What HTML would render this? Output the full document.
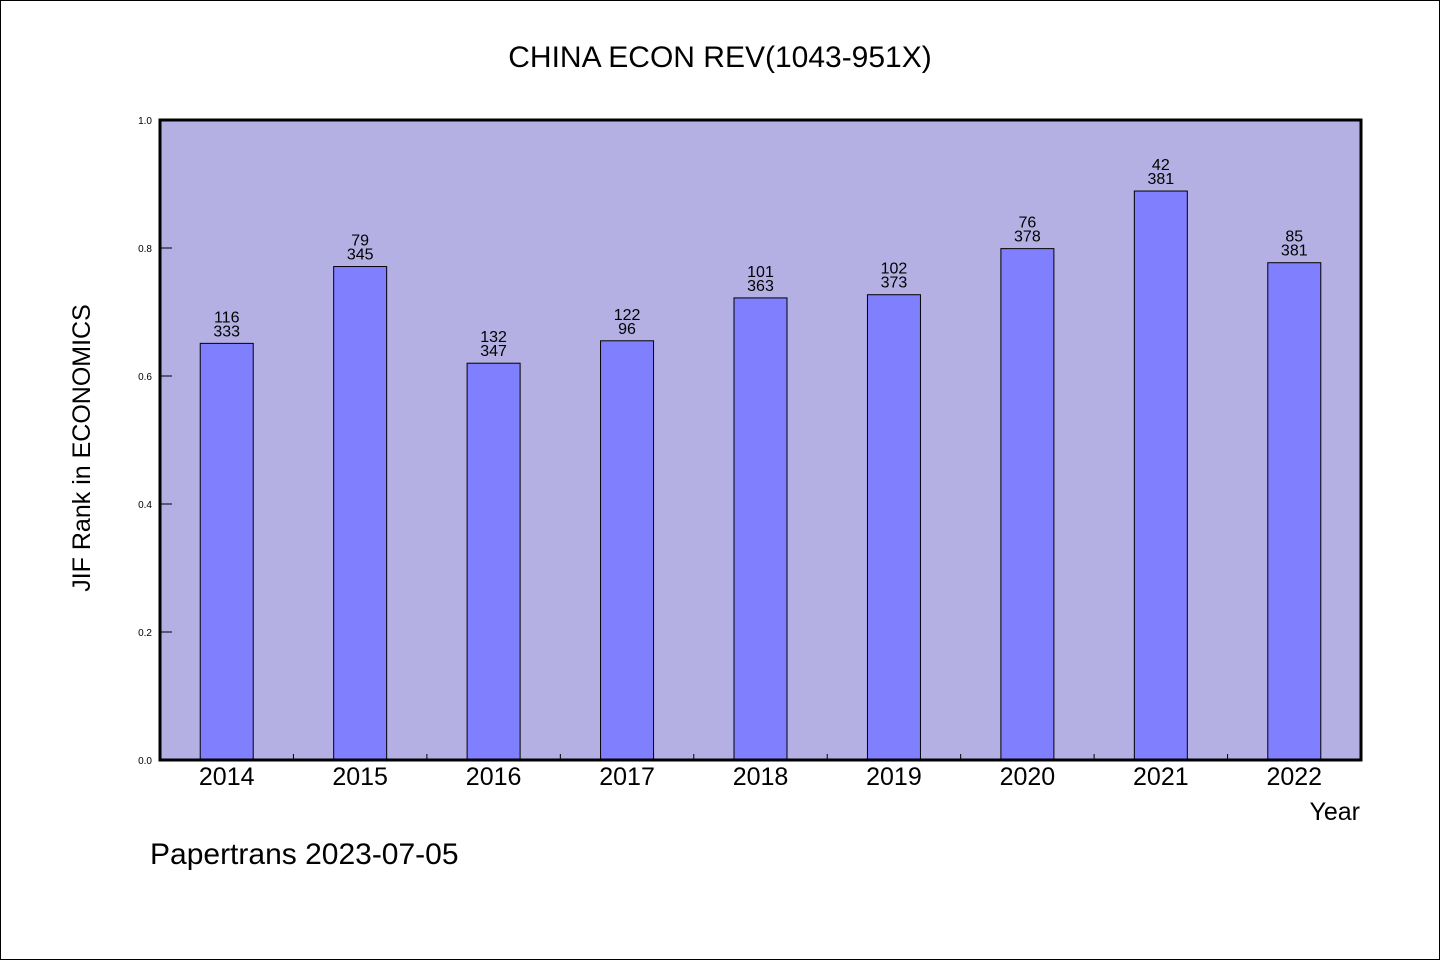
<!DOCTYPE html>
<html><head><meta charset="utf-8"><style>
body{margin:0;background:#fff}
svg{display:block}
text{font-family:"WenQuanYi Zen Hei","Liberation Sans",sans-serif;fill:#000}
</style></head><body>
<svg id="chart" width="1440" height="960" xmlns="http://www.w3.org/2000/svg">
<rect x="0.5" y="0.5" width="1439" height="959" fill="#fff" stroke="#000"/>
<text x="720" y="67" font-size="30" text-anchor="middle">CHINA ECON REV(1043-951X)</text>
<rect x="160" y="120" width="1201" height="640" fill="#b5b0e3"/>
<g id="bars"></g>
<g id="axes"></g>
<text transform="translate(90,448) rotate(-90)" font-size="25" text-anchor="middle">JIF Rank in ECONOMICS</text>
<text x="1360" y="820" font-size="25" text-anchor="end">Year</text>
<text x="150" y="864" font-size="30">Papertrans 2023-07-05</text>
</svg>
<script>
const years = ["2014","2015","2016","2017","2018","2019","2020","2021","2022"];
const ranks = [116,79,132,122,101,102,76,42,85];
const totals = [333,345,347,96,363,373,378,381,381];
const values = [0.651,0.771,0.620,0.655,0.722,0.727,0.799,0.889,0.777];
const yTicks = [0,0.2,0.4,0.6,0.8,1.0];
const tickLabels = ["0.0","0.2","0.4","0.6","0.8","1.0"];

const NS="http://www.w3.org/2000/svg";
const L=160,R=1361,T=120,B=760;
const slot=(R-L)/years.length;
const xC=i=>L+slot*(i+0.5);
const y=v=>B-(B-T)*v;
function mk(tag,attrs,parent){const e=document.createElementNS(NS,tag);for(const k in attrs)e.setAttribute(k,attrs[k]);parent.appendChild(e);return e;}
const bars=document.getElementById('bars'), axes=document.getElementById('axes');
const bw=53;
years.forEach((yr,i)=>{
  const b=mk('rect',{x:xC(i)-bw/2,y:y(values[i]),width:bw,height:B-y(values[i]),fill:'#8080ff',stroke:'#000','stroke-width':1},bars);
  
  
  const t1=mk('text',{x:xC(i),y:y(values[i])-21,'font-size':16,'text-anchor':'middle'},bars);
  t1.textContent=ranks[i];
  
  
  const t2=mk('text',{x:xC(i),y:y(values[i])-7,'font-size':16,'text-anchor':'middle'},bars);
  t2.textContent=totals[i];
  
  
  const xl=mk('text',{x:xC(i),y:785,'font-size':25,'text-anchor':'middle'},axes);
  xl.textContent=yr;
  
  
  if(i>0){const tk=mk('line',{x1:L+slot*i,x2:L+slot*i,y1:B,y2:B-6,stroke:'#000','stroke-width':1},axes);
  
  }
});
yTicks.forEach((v,i)=>{
  const tk=mk('line',{x1:L,x2:L+12,y1:y(v),y2:y(v),stroke:'#000','stroke-width':1},axes);
  
  
  const tl=mk('text',{x:152,y:y(v)+4,'font-size':10,'text-anchor':'end'},axes);
  tl.textContent=tickLabels[i];
  
  
});
const frame=mk('rect',{x:L,y:T,width:R-L,height:B-T,fill:'none',stroke:'#000','stroke-width':3},axes);


</script>
</body></html>
